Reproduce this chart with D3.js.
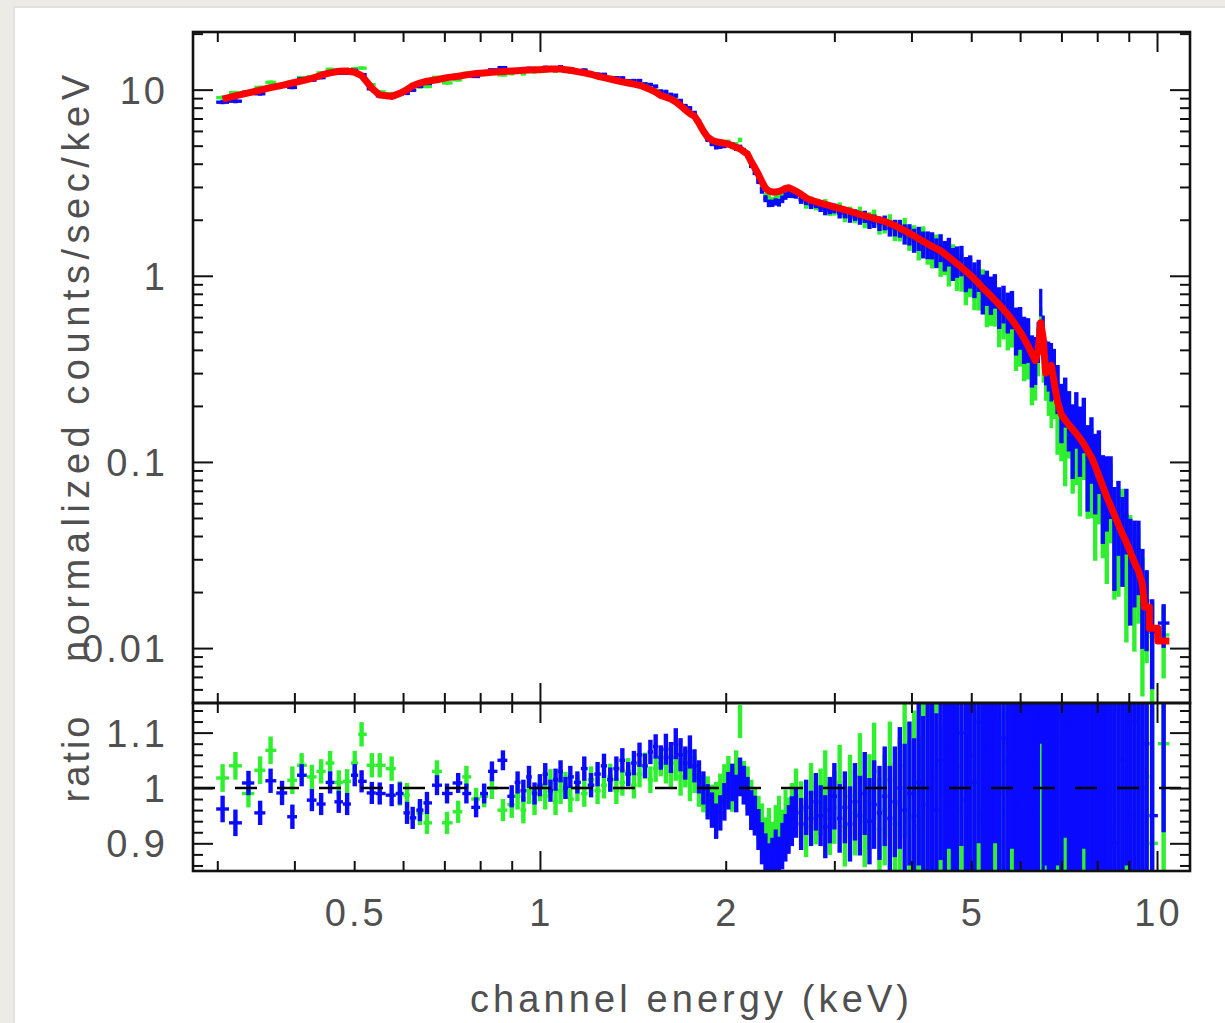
<!DOCTYPE html>
<html>
<head>
<meta charset="utf-8">
<script src="https://cdn.jsdelivr.net/npm/d3@7"></script>
<style>
  html, body { margin: 0; padding: 0; background: #ffffff; overflow: hidden; }
  svg { display: block; }
</style>
</head>
<body>
<svg id="chart" width="1225" height="1023"></svg>
<script>
// ---- spectral bins: channel energy (keV, bin centres) ----
const energy = [
  0.306,0.321,0.337,0.352,0.366,0.382,0.397,0.411,0.427,0.442,0.457,0.472,0.487,0.501,0.514,0.534,0.550,0.575,0.593,0.609,0.622,0.639,0.656,0.681,0.707,0.737,0.760,0.788,0.812,0.836,0.871,
  0.90,0.92,0.94,0.96,0.98,1.00,1.02,1.04,1.06,1.08,1.10,1.12,1.15,1.18,1.21,1.24,1.27,1.30,1.33,1.36,1.39,1.42,1.45,1.48,1.51,1.54,1.57,
  1.60,1.63,1.66,1.69,1.72,1.75,1.78,1.81,1.84,1.87,1.90,1.93,1.96,1.99,2.02,2.05,2.08,2.11,2.14,2.17,2.20,2.23,2.26,2.29,2.32,2.35,2.38,2.41,2.44,2.47,2.50,2.53,2.56,
  2.60,2.65,2.70,2.75,2.80,2.85,2.90,2.95,3.00,3.06,3.12,3.18,3.24,3.30,3.36,3.42,3.48,3.55,3.62,3.69,3.76,3.83,3.90,3.97,4.04,4.11,4.18,4.25,
  4.32,4.39,4.46,4.53,4.60,4.67,4.74,4.82,4.90,4.98,5.06,5.14,5.22,5.30,5.38,5.46,5.55,5.64,5.73,5.82,5.91,6.00,6.09,6.18,6.27,6.35,6.42,6.48,6.54,6.60,6.67,6.74,6.81,6.90,7.00,7.10,7.20,7.30,7.40,7.50,7.61,7.72,7.83,7.94,8.05,8.17,8.29,8.41,8.53,8.66,8.79,8.92,9.05,9.19,9.33,9.47,9.62,9.82,10.25
];

// folded model, normalized counts/sec/keV per bin
const model = [
  8.9,9.25,9.6,9.95,10.25,10.55,10.85,11.15,11.5,11.95,12.3,12.55,12.6,12.4,11.9,10.2,9.35,9.2,9.55,10.0,10.5,10.85,11.1,11.3,11.6,11.8,12.0,12.2,12.3,12.4,12.5,
  12.6,12.65,12.7,12.75,12.8,12.8,12.85,12.9,12.9,12.9,12.8,12.7,12.5,12.3,12.1,11.8,11.6,11.4,11.2,11.0,10.85,10.7,10.55,10.3,10.0,9.7,9.3,
  9.1,8.9,8.6,8.2,7.8,7.45,7.2,6.6,6.0,5.55,5.35,5.25,5.2,5.15,5.1,5.0,4.9,4.8,4.65,4.5,4.1,3.8,3.5,3.2,2.95,2.85,2.82,2.82,2.84,2.88,2.95,2.97,2.92,
  2.85,2.74,2.62,2.55,2.50,2.46,2.42,2.38,2.34,2.30,2.26,2.22,2.18,2.14,2.10,2.07,2.03,2.00,1.96,1.91,1.86,1.80,1.75,1.69,1.64,1.58,1.53,1.48,
  1.44,1.40,1.36,1.31,1.26,1.21,1.16,1.11,1.06,1.01,0.96,0.91,0.86,0.82,0.78,0.74,0.70,0.66,0.62,0.58,0.54,0.50,0.46,0.42,0.38,0.35,0.40,0.56,0.46,0.30,0.31,0.33,0.27,0.21,0.180,0.168,0.158,0.150,0.142,0.134,0.125,0.115,0.106,0.095,0.084,0.074,0.065,0.058,0.052,0.046,0.041,0.037,0.033,0.029,0.026,0.022,0.0166,0.0128,0.0109
];

// data / model ratio and 1-sigma error, first instrument (blue)
const blueRatio = [
  0.962,0.937,1.009,0.955,1.013,0.991,0.948,1.023,0.978,0.971,1.010,0.975,0.971,1.023,1.012,0.991,0.990,0.987,0.990,0.955,0.946,0.960,0.973,1.005,0.990,1.009,0.990,0.965,0.990,1.030,1.050,
  0.985,1.010,0.995,1.020,0.990,1.005,1.025,0.995,1.015,1.030,1.000,1.020,1.010,1.035,1.005,1.025,1.040,1.015,1.035,1.050,1.025,1.045,1.060,1.040,1.065,1.075,1.055,
  1.070,1.055,1.080,1.060,1.045,1.065,1.040,1.020,1.000,0.975,0.960,0.940,0.955,0.975,0.995,1.010,0.990,1.020,1.005,0.985,0.960,0.950,0.925,0.900,0.880,0.860,0.870,0.885,0.870,0.895,0.910,0.925,0.940,
  0.955,0.935,0.965,0.945,0.975,0.950,0.930,0.960,0.985,0.945,0.965,0.935,0.975,0.950,0.990,0.940,0.970,0.955,0.985,0.945,0.975,1.000,0.960,0.990,0.950,1.010,0.970,1.000,
  1.02,0.96,1.05,0.99,1.08,0.97,1.04,1.10,0.98,1.06,1.01,1.12,0.95,1.07,1.03,1.14,0.99,1.09,1.05,1.16,0.97,1.08,1.02,1.11,0.96,1.04,1.13,1.30,1.05,1.18,1.10,0.98,1.15,1.22,1.08,1.30,1.12,0.95,1.25,1.05,1.33,0.92,1.18,1.02,1.28,0.98,1.15,1.35,0.90,1.20,1.05,1.40,0.95,1.12,1.30,1.00,1.08,0.95,1.25
];
const blueErr = [
  0.024,0.024,0.022,0.022,0.022,0.022,0.022,0.02,0.02,0.02,0.02,0.02,0.02,0.02,0.02,0.02,0.02,0.02,0.02,0.02,0.02,0.02,0.02,0.018,0.018,0.018,0.018,0.018,0.018,0.018,0.018,
  0.02,0.02,0.02,0.02,0.02,0.02,0.02,0.02,0.02,0.02,0.02,0.02,0.02,0.022,0.022,0.022,0.022,0.022,0.022,0.022,0.022,0.022,0.022,0.022,0.022,0.022,0.022,
  0.028,0.028,0.028,0.03,0.03,0.03,0.03,0.03,0.03,0.032,0.032,0.032,0.032,0.034,0.034,0.034,0.034,0.035,0.035,0.035,0.036,0.036,0.037,0.038,0.038,0.04,0.04,0.04,0.042,0.042,0.043,0.044,0.045,
  0.045,0.047,0.05,0.05,0.052,0.055,0.057,0.06,0.06,0.062,0.065,0.068,0.07,0.072,0.075,0.078,0.08,0.085,0.09,0.095,0.10,0.11,0.12,0.13,0.14,0.15,0.16,0.17,
  0.17,0.175,0.18,0.185,0.19,0.195,0.20,0.205,0.21,0.215,0.22,0.22,0.23,0.23,0.24,0.24,0.25,0.25,0.26,0.27,0.28,0.28,0.29,0.30,0.30,0.30,0.28,0.22,0.28,0.32,0.33,0.34,0.35,0.36,0.38,0.39,0.40,0.41,0.42,0.43,0.44,0.45,0.46,0.47,0.48,0.49,0.50,0.50,0.51,0.52,0.53,0.54,0.55,0.55,0.56,0.55,0.50,0.48,0.33
];

// data / model ratio and 1-sigma error, second instrument (green)
const greenRatio = [
  1.018,1.040,0.990,1.032,1.068,null,1.014,1.041,1.020,1.030,1.045,1.010,1.012,1.045,1.097,1.041,1.041,1.035,0.990,0.987,null,0.955,0.937,1.030,0.937,0.957,1.020,0.980,0.985,1.000,0.960,
  0.970,0.985,0.960,0.995,0.975,1.000,0.985,1.010,0.975,0.995,1.005,0.980,1.000,0.990,1.015,0.995,1.005,1.020,0.995,1.010,1.030,1.005,1.025,1.040,1.015,1.035,1.045,
  1.040,1.030,1.045,1.020,1.035,1.010,1.025,1.000,0.990,0.985,0.970,0.975,0.990,1.005,1.020,0.995,1.030,1.120,1.010,1.000,0.975,0.960,0.945,0.930,0.905,0.920,0.895,0.925,0.940,0.915,0.950,0.935,0.960,
  0.985,0.960,0.930,0.990,0.955,0.975,1.005,0.945,0.965,1.010,0.930,0.985,0.955,1.020,0.940,0.975,1.030,0.925,0.960,1.015,0.935,0.970,1.040,0.945,0.990,0.930,1.030,0.960,
  0.95,1.00,0.92,0.97,0.90,1.01,0.93,0.96,0.88,0.99,0.91,0.95,1.02,0.89,0.94,0.98,0.86,0.96,0.92,1.00,0.87,0.95,0.90,0.98,0.85,0.93,1.02,0.96,0.88,1.05,0.92,0.82,1.00,0.90,0.96,0.85,1.08,0.88,0.97,0.83,1.10,0.90,0.95,0.80,1.05,0.92,0.86,1.15,0.88,0.95,1.20,0.85,1.00,0.90,1.10,0.82,1.02,0.90,1.08
];
const greenErr = [
  0.025,0.025,0.025,0.025,0.025,0.025,0.025,0.022,0.022,0.022,0.022,0.022,0.022,0.022,0.022,0.022,0.022,0.022,0.022,0.022,0.022,0.022,0.02,0.02,0.02,0.02,0.02,0.02,0.02,0.02,0.02,
  0.024,0.024,0.024,0.024,0.024,0.024,0.024,0.024,0.024,0.024,0.024,0.024,0.024,0.024,0.024,0.024,0.024,0.024,0.024,0.024,0.024,0.024,0.024,0.024,0.024,0.024,0.024,
  0.032,0.032,0.032,0.034,0.034,0.034,0.034,0.034,0.034,0.036,0.036,0.036,0.036,0.038,0.038,0.038,0.038,0.03,0.039,0.039,0.04,0.04,0.041,0.042,0.042,0.044,0.044,0.044,0.046,0.046,0.047,0.048,0.049,
  0.05,0.052,0.055,0.055,0.057,0.06,0.063,0.066,0.066,0.068,0.072,0.075,0.077,0.079,0.083,0.086,0.088,0.094,0.10,0.105,0.11,0.12,0.13,0.14,0.15,0.165,0.175,0.185,
  0.19,0.19,0.195,0.2,0.205,0.21,0.215,0.22,0.225,0.23,0.23,0.235,0.24,0.245,0.25,0.26,0.27,0.27,0.28,0.29,0.30,0.30,0.31,0.32,0.32,0.32,0.30,0.25,0.30,0.34,0.35,0.36,0.37,0.38,0.40,0.41,0.42,0.43,0.44,0.45,0.46,0.47,0.48,0.49,0.50,0.51,0.52,0.52,0.53,0.54,0.55,0.56,0.57,0.57,0.58,0.57,0.52,0.50,0.45
];

// labelled tick values
const xTickLabels = [0.5, 1, 2, 5, 10];
const yTickLabels = [0.01, 0.1, 1, 10];
const ratioTickLabels = [0.9, 1, 1.1];

// ---- layout ----
const W = 1225, H = 1023;
const plotLeft = 193, plotRight = 1190, plotTop = 32, plotMid = 703, plotBottom = 871;
const svg = d3.select('#chart');
const defs = svg.append('defs');

// page backdrop and the white sheet the plot sits on
svg.append('rect').attr('x', 0).attr('y', 0).attr('width', W).attr('height', H).attr('fill', '#edebe6');
svg.append('rect').attr('x', 13).attr('y', 6).attr('width', W).attr('height', H).attr('fill', '#e3e1dc');
svg.append('rect').attr('x', 15).attr('y', 8).attr('width', W).attr('height', H).attr('fill', '#ffffff');

defs.append('clipPath').attr('id', 'clipTop').append('rect')
  .attr('x', plotLeft).attr('y', plotTop).attr('width', plotRight - plotLeft).attr('height', plotMid - plotTop);
defs.append('clipPath').attr('id', 'clipRatio').append('rect')
  .attr('x', plotLeft).attr('y', plotMid).attr('width', plotRight - plotLeft).attr('height', plotBottom - plotMid);

// ---- scales ----
const x = d3.scaleLog().domain([0.274, 11.31]).range([plotLeft, plotRight]);
const y = d3.scaleLog().domain([0.00507, 20.4]).range([plotMid, plotTop]);
const r = d3.scaleLinear().domain([0.85, 1.1535]).range([plotBottom, plotMid]);

// contiguous bin edges (geometric midpoints between neighbouring centres)
const n = energy.length;
const binLo = energy.map((e, i) => i === 0 ? e * Math.sqrt(e / energy[1]) : Math.sqrt(energy[i - 1] * e));
const binHi = energy.map((e, i) => i === n - 1 ? e * Math.sqrt(e / energy[i - 1]) : Math.sqrt(e * energy[i + 1]));

function series(ratio, err) {
  return energy.map((e, i) => ({ e, lo: binLo[i], hi: binHi[i], m: model[i], v: ratio[i], s: err[i] }))
    .filter(d => d.v != null);
}
const datasets = [
  { color: '#2ef02e', rows: series(greenRatio, greenErr) },
  { color: '#0a0aff', rows: series(blueRatio, blueErr) }
];

const yMin = y.domain()[0];
const barWidth = 3.4;
// vertical error bars are as wide as a narrow bin so adjacent groups merge
const vWidth = d => Math.min(x(d.hi) - x(d.lo) + 0.8, 4.4);

// ---- upper panel: counts spectrum ----
const gTop = svg.append('g').attr('clip-path', 'url(#clipTop)');
datasets.forEach(ds => {
  const g = gTop.append('g').attr('stroke', ds.color);
  g.selectAll('line.v').data(ds.rows).join('line').attr('class', 'v')
    .attr('stroke-width', vWidth)
    .attr('x1', d => x(d.e)).attr('x2', d => x(d.e))
    .attr('y1', d => y(Math.max(d.m * (d.v - d.s), yMin)))
    .attr('y2', d => y(d.m * (d.v + d.s)));
  g.selectAll('line.h').data(ds.rows).join('line').attr('class', 'h')
    .attr('stroke-width', barWidth)
    .attr('x1', d => x(d.lo)).attr('x2', d => x(d.hi))
    .attr('y1', d => y(d.m * d.v)).attr('y2', d => y(d.m * d.v));
});

// model curve through the bin centres; the widest last groups are drawn as flat steps
const stepFrom = n - 3;
const modelPts = energy.flatMap((e, i) =>
  i >= stepFrom ? [[binLo[i], model[i]], [binHi[i], model[i]]] : [[e, model[i]]]);
gTop.append('path')
  .attr('d', d3.line().x(d => x(d[0])).y(d => y(d[1]))(modelPts))
  .attr('fill', 'none').attr('stroke', '#ff0000').attr('stroke-width', 7)
  .attr('stroke-linejoin', 'round').attr('stroke-linecap', 'butt');

// ---- lower panel: ratio ----
const gRatio = svg.append('g').attr('clip-path', 'url(#clipRatio)');
datasets.forEach(ds => {
  const g = gRatio.append('g').attr('stroke', ds.color);
  g.selectAll('line.v').data(ds.rows).join('line').attr('class', 'v')
    .attr('stroke-width', vWidth)
    .attr('x1', d => x(d.e)).attr('x2', d => x(d.e))
    .attr('y1', d => r(d.v - d.s)).attr('y2', d => r(d.v + d.s));
  g.selectAll('line.h').data(ds.rows).join('line').attr('class', 'h')
    .attr('stroke-width', barWidth)
    .attr('x1', d => x(d.lo)).attr('x2', d => x(d.hi))
    .attr('y1', d => r(d.v)).attr('y2', d => r(d.v));
});
gRatio.append('line')
  .attr('x1', plotLeft).attr('x2', plotRight).attr('y1', r(1)).attr('y2', r(1))
  .attr('stroke', '#000').attr('stroke-width', 2.6).attr('stroke-dasharray', '22,20');

// ---- frames ----
[[plotTop, plotMid], [plotMid, plotBottom]].forEach(([a, b]) => {
  svg.append('rect').attr('x', plotLeft).attr('y', a).attr('width', plotRight - plotLeft).attr('height', b - a)
    .attr('fill', 'none').attr('stroke', '#111').attr('stroke-width', 2.6);
});

// ---- inward ticks on every side ----
function tickSet(axis, scale, values, size, tx, ty) {
  svg.append('g').attr('transform', `translate(${tx},${ty})`)
    .call(axis(scale).tickValues(values).tickSize(size).tickFormat(''))
    .call(g => g.select('.domain').remove())
    .selectAll('line').attr('stroke', '#111').attr('stroke-width', 2);
}
const isDecade = v => Math.abs(Math.log10(v) - Math.round(Math.log10(v))) < 1e-9;

const xAll = x.ticks();
const xMajor = xAll.filter(isDecade), xMinor = xAll.filter(v => !isDecade(v));
const yAll = y.ticks();
const yMajor = yAll.filter(isDecade), yMinor = yAll.filter(v => !isDecade(v));
const rAll = d3.ticks(0.85, 1.1535, 15);
const isTenth = v => Math.abs(v * 10 - Math.round(v * 10)) < 1e-6;
const rMajor = rAll.filter(isTenth), rMinor = rAll.filter(v => !isTenth(v));

[[xMajor, 20], [xMinor, 10]].forEach(([vals, len]) => {
  tickSet(d3.axisBottom, x, vals, len, 0, plotTop);     // top of upper panel, pointing down
  tickSet(d3.axisTop, x, vals, len, 0, plotMid);        // bottom of upper panel, pointing up
  tickSet(d3.axisBottom, x, vals, len, 0, plotMid);     // top of ratio panel, pointing down
  tickSet(d3.axisTop, x, vals, len, 0, plotBottom);     // bottom of ratio panel, pointing up
});
[[yMajor, 20], [yMinor, 10]].forEach(([vals, len]) => {
  tickSet(d3.axisRight, y, vals, len, plotLeft, 0);
  tickSet(d3.axisLeft, y, vals, len, plotRight, 0);
});
[[rMajor, 20], [rMinor, 10]].forEach(([vals, len]) => {
  tickSet(d3.axisRight, r, vals, len, plotLeft, 0);
  tickSet(d3.axisLeft, r, vals, len, plotRight, 0);
});

// ---- labels ----
const font = { family: '"Liberation Sans", Arial, sans-serif', size: 38, fill: '#505050' };
function label(txt) {
  return txt.attr('font-family', font.family).attr('font-size', font.size)
    .attr('fill', font.fill).attr('letter-spacing', 3);
}
const fmt = v => String(v);

xTickLabels.forEach(v => {
  label(svg.append('text')).attr('x', x(v) + 1.5).attr('y', 926)
    .attr('text-anchor', 'middle').text(fmt(v));
});
yTickLabels.forEach(v => {
  label(svg.append('text')).attr('x', 168).attr('y', y(v) + 14)
    .attr('text-anchor', 'end').text(fmt(v));
});
ratioTickLabels.forEach(v => {
  label(svg.append('text')).attr('x', 168).attr('y', r(v) + 14)
    .attr('text-anchor', 'end').text(fmt(v));
});

label(svg.append('text'))
  .attr('transform', 'translate(89,367) rotate(-90)')
  .attr('text-anchor', 'middle')
  .attr('textLength', 590).attr('lengthAdjust', 'spacing')
  .text('normalized counts/sec/keV');

label(svg.append('text'))
  .attr('transform', `translate(89,${r(1) - 30}) rotate(-90)`)
  .attr('text-anchor', 'middle')
  .text('ratio');

label(svg.append('text'))
  .attr('x', 691).attr('y', 1012)
  .attr('text-anchor', 'middle')
  .attr('textLength', 442).attr('lengthAdjust', 'spacing')
  .text('channel energy (keV)');
</script>
</body>
</html>
